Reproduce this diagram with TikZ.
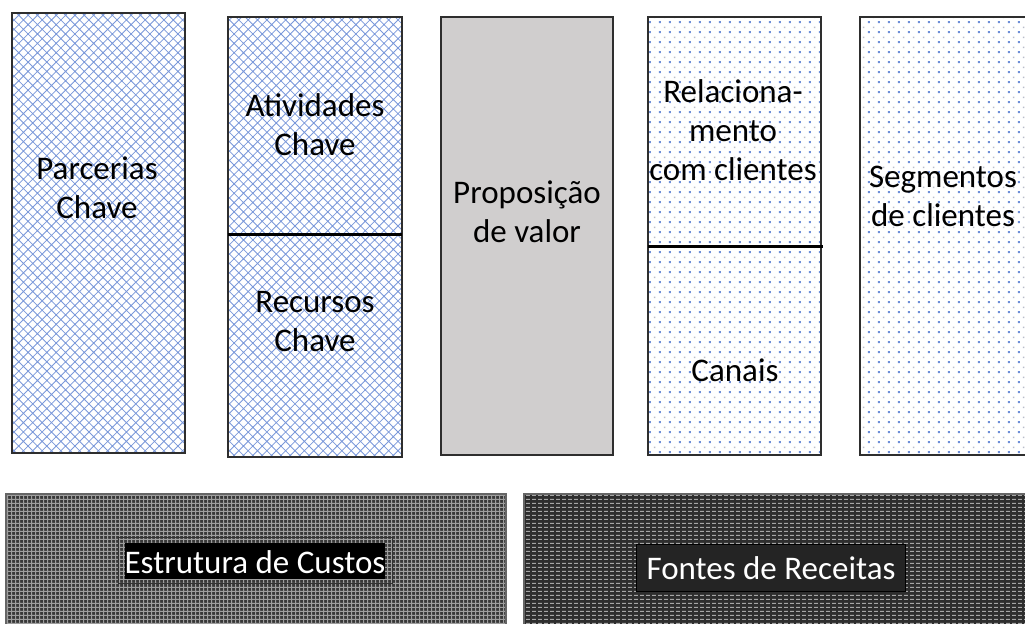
\documentclass[tikz,border=0pt]{standalone}
\usepackage{fontspec}
\setmainfont{Carlito}
\usetikzlibrary{patterns}
\pgfdeclarepatternformonly{diamondlat}{\pgfpoint{-1pt}{-1pt}}{\pgfpoint{10.4pt}{10.4pt}}{\pgfpoint{9.4pt}{9.4pt}}{%
  \pgfsetlinewidth{0.8pt}%
  \pgfpathmoveto{\pgfpoint{-0.5pt}{-0.5pt}}\pgfpathlineto{\pgfpoint{9.9pt}{9.9pt}}%
  \pgfpathmoveto{\pgfpoint{-0.5pt}{9.9pt}}\pgfpathlineto{\pgfpoint{9.9pt}{-0.5pt}}%
  \pgfusepath{stroke}}
\pgfdeclarepatternformonly{bluedots}{\pgfpointorigin}{\pgfpoint{10pt}{10pt}}{\pgfpoint{10pt}{10pt}}{%
  \pgfpathrectangle{\pgfpoint{2pt}{2pt}}{\pgfpoint{2pt}{2pt}}\pgfusepath{fill}}
\pgfdeclarepatternformonly{greydots}{\pgfpointorigin}{\pgfpoint{10pt}{10pt}}{\pgfpoint{10pt}{10pt}}{%
  \pgfpathrectangle{\pgfpoint{7pt}{7pt}}{\pgfpoint{1.3pt}{1.3pt}}\pgfusepath{fill}}
\pgfdeclarepatternformonly{weave}{\pgfpointorigin}{\pgfpoint{4pt}{4pt}}{\pgfpoint{4pt}{4pt}}{%
  \pgfpathrectangle{\pgfpoint{0pt}{0pt}}{\pgfpoint{1.1pt}{4pt}}%
  \pgfpathrectangle{\pgfpoint{0pt}{0pt}}{\pgfpoint{4pt}{1.1pt}}\pgfusepath{fill}}
\pgfdeclarepatternformonly{dashrows}{\pgfpointorigin}{\pgfpoint{6pt}{4pt}}{\pgfpoint{6pt}{4pt}}{%
  \pgfpathrectangle{\pgfpoint{0pt}{0pt}}{\pgfpoint{4pt}{1.2pt}}\pgfusepath{fill}}
\definecolor{latblue}{HTML}{7A98DA}
\definecolor{dotblue}{HTML}{6F8FD8}
\definecolor{dotgrey}{HTML}{B8BCC8}
\definecolor{propgrey}{HTML}{D0CECE}
\definecolor{edgegrey}{HTML}{2E2E2E}
\tikzset{
  boxedge/.style={draw=edgegrey, line width=1.5bp},
  divider/.style={draw=black, line width=3bp},
  lbl/.style={align=center, font=\fontsize{33bp}{39bp}\selectfont, inner sep=0pt},
  wlbl/.style={font=\fontsize{33bp}{39bp}\selectfont, text=white, inner sep=0pt}
}
\begin{document}
\begin{tikzpicture}[x=1bp, y=-1bp]
\useasboundingbox (0,0) rectangle (1025,624);
% Parcerias
\fill[white] (12,13) rectangle (185,453);
\fill[pattern=diamondlat, pattern color=latblue] (12,13) rectangle (185,453);
\draw[boxedge] (12,13) rectangle (185,453);
\node[lbl] (parc) at (97,188) {Parcerias\\Chave};
% Atividades / Recursos
\fill[pattern=diamondlat, pattern color=latblue] (228,17) rectangle (402,457);
\draw[boxedge] (228,17) rectangle (402,457);
\coordinate (d1a) at (228,235);
\coordinate (d1b) at (402,235);
\draw[divider] (d1a) -- (d1b);
\node[lbl] (ativ) at (315,125) {Atividades\\Chave};
\node[lbl] (recu) at (315,322) {Recursos\\Chave};
% Proposicao
\fill[propgrey] (441,17) rectangle (613,455);
\draw[boxedge] (441,17) rectangle (613,455);
\node[lbl] (prop) at (527,212) {Proposição\\de valor};
% Relacionamento / Canais
\fill[pattern=bluedots, pattern color=dotblue] (648,17) rectangle (821,455);
\fill[pattern=greydots, pattern color=dotgrey] (648,17) rectangle (821,455);
\draw[boxedge] (648,17) rectangle (821,455);
\coordinate (d2a) at (648,247);
\coordinate (d2b) at (823,247);
\draw[divider] (d2a) -- (d2b);
\node[lbl] (rela) at (733,130) {Relaciona-\\mento\\com clientes};
\node[lbl] (cana) at (735,370) {Canais};
% Segmentos
\fill[pattern=bluedots, pattern color=dotblue] (860,17) rectangle (1030,455);
\fill[pattern=greydots, pattern color=dotgrey] (860,17) rectangle (1030,455);
\draw[boxedge] (860,17) rectangle (1030,455);
\node[lbl] (segm) at (943,196) {Segmentos\\de clientes};
% Estrutura de custos
\fill[black!78] (6,494) rectangle (506,630);
\fill[pattern=weave, pattern color=black!38] (6,494) rectangle (506,630);
\draw[draw=black!60, line width=1.5bp] (6,494) rectangle (506,630);
\draw[draw=black!80, line width=1bp] (118,537) rectangle (392,583);
\fill[black] (125,543) rectangle (385,579);
\node[wlbl] (cust) at (255,562) {Estrutura de Custos};
% Fontes de receitas
\fill[black!82] (524,494) rectangle (1030,630);
\fill[pattern=dashrows, pattern color=black!35] (524,494) rectangle (1030,630);
\draw[draw=black!60, line width=1.5bp] (524,494) rectangle (1030,630);
\fill[black!86, draw=black] (636,544) rectangle (905,591);
\node[wlbl] (rece) at (771,568) {Fontes de Receitas};
\end{tikzpicture}
\end{document}
